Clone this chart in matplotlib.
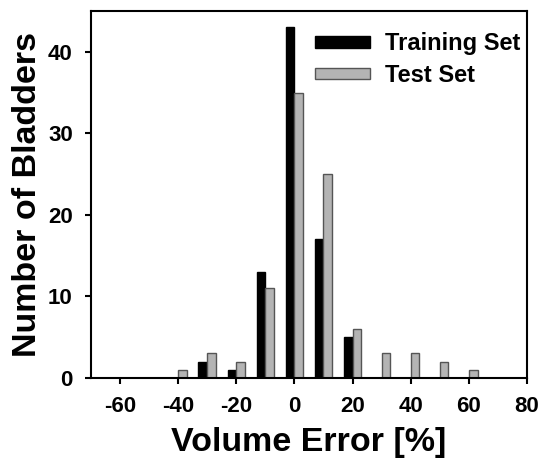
import matplotlib
matplotlib.use("Agg")
import matplotlib.pyplot as plt
import numpy as np

plt.rcParams['font.family'] = ['Liberation Sans', 'DejaVu Sans']
plt.rcParams['font.weight'] = 'bold'
plt.rcParams['axes.unicode_minus'] = False

bins = [-40, -30, -20, -10, 0, 10, 20, 30, 40, 50, 60]
training = [0, 2, 1, 13, 43, 17, 5, 0, 0, 0, 0]
test = [1, 3, 2, 11, 35, 25, 6, 3, 3, 2, 1]
xticks = [-60, -40, -20, 0, 20, 40, 60, 80]
yticks = [0, 10, 20, 30, 40]

fig = plt.figure(figsize=(5.41, 4.63), dpi=100)
ax = fig.add_axes([0.168, 0.184, 0.806, 0.792])

w = 3
x = np.array(bins)
tr = np.array(training)
mask = tr > 0
ax.bar(x[mask] - w, tr[mask], width=w, align='edge',
       color='black', edgecolor='black', linewidth=1, label='Training Set')
ax.bar(x, test, width=w, align='edge', color='#b4b4b4', edgecolor='#555555',
       linewidth=1, label='Test Set')

ax.set_xlim(-70, 80)
ax.set_ylim(0, 45)
ax.set_xticks(xticks)
ax.set_yticks(yticks)
ax.tick_params(axis='both', direction='out', length=4.5, width=1.5,
               labelsize=16, pad=8.5)
for lbl in ax.get_xticklabels() + ax.get_yticklabels():
    lbl.set_fontweight('bold')
for s in ax.spines.values():
    s.set_linewidth(1.5)

ax.set_xlabel('Volume Error [%]', fontsize=24.5, fontweight='bold', labelpad=7)
ax.set_ylabel('Number of Bladders', fontsize=24.5, fontweight='bold', labelpad=4)

leg = ax.legend(loc='upper right', bbox_to_anchor=(0.984, 0.942),
                fontsize=17, frameon=False,
                handlelength=2.33, handleheight=0.36, handletextpad=0.6,
                labelspacing=0.35, borderaxespad=0, borderpad=0)
for t in leg.get_texts():
    t.set_fontweight('bold')

fig.savefig('out.png', dpi=100)
